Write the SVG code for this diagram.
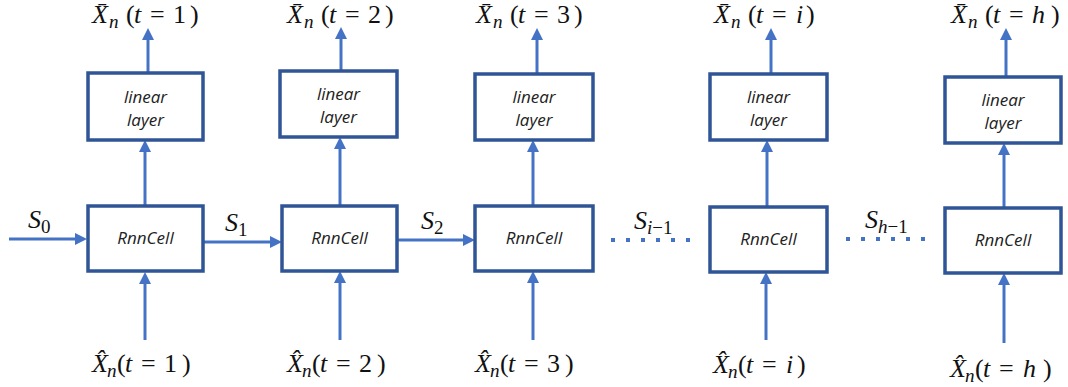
<svg xmlns="http://www.w3.org/2000/svg" width="1068" height="387" viewBox="0 0 1068 387">
<style>
.box{fill:#fff;stroke:#2F5597;stroke-width:3.5}
.ar{stroke:#4472C4;stroke-width:3;fill:none;marker-end:url(#ah)}
.dot{stroke:#4472C4;stroke-width:4;fill:none;stroke-dasharray:4 11}
.bt{font-family:"Open Sans","Noto Sans",sans-serif;font-style:italic;font-size:17px;fill:#222;text-anchor:middle}
.m{font-family:"Liberation Serif","DejaVu Serif",serif;font-size:26px;fill:#111}
.i{font-style:italic}
.sub{font-size:19px}
</style>
<defs>
<marker id="ah" markerUnits="userSpaceOnUse" markerWidth="12" markerHeight="12" refX="4" refY="6" orient="auto">
<path d="M0,0 L12,6 L0,12 z" fill="#4472C4"/>
</marker>
</defs>
<g id="connectors">
<line class="ar" x1="9" y1="239" x2="79" y2="239"/>
<line class="ar" x1="203" y1="242" x2="274" y2="242"/>
<line class="ar" x1="397" y1="240" x2="467" y2="240"/>
<line class="dot" x1="611" y1="240" x2="692" y2="240"/>
<line class="dot" x1="846" y1="239" x2="927" y2="239"/>
<line class="ar" x1="148" y1="73" x2="148" y2="36"/>
<line class="ar" x1="145" y1="206" x2="145" y2="148"/>
<line class="ar" x1="145" y1="340" x2="145" y2="280"/>
<line class="ar" x1="341" y1="71" x2="341" y2="35"/>
<line class="ar" x1="340" y1="206" x2="340" y2="145"/>
<line class="ar" x1="340" y1="340" x2="340" y2="279"/>
<line class="ar" x1="537" y1="74" x2="537" y2="36"/>
<line class="ar" x1="533" y1="206" x2="533" y2="148"/>
<line class="ar" x1="533" y1="340" x2="533" y2="279"/>
<line class="ar" x1="771" y1="74" x2="771" y2="36"/>
<line class="ar" x1="767" y1="207" x2="767" y2="148"/>
<line class="ar" x1="766" y1="340" x2="766" y2="280"/>
<line class="ar" x1="1006" y1="77" x2="1006" y2="36"/>
<line class="ar" x1="1004" y1="208" x2="1004" y2="151"/>
<line class="ar" x1="1004" y1="343" x2="1004" y2="281"/>
</g>
<g id="state-labels" class="m">
<text x="28" y="228"><tspan class="i">S</tspan><tspan class="sub" dy="5">0</tspan></text>
<text x="225" y="231"><tspan class="i">S</tspan><tspan class="sub" dy="5">1</tspan></text>
<text x="421" y="229"><tspan class="i">S</tspan><tspan class="sub" dy="5">2</tspan></text>
<text x="634" y="229"><tspan class="i">S</tspan><tspan class="sub" dy="5"><tspan class="i">i</tspan>−1</tspan></text>
<text x="865" y="228"><tspan class="i">S</tspan><tspan class="sub" dy="5"><tspan class="i">h</tspan>−1</tspan></text>
</g>
<g id="lin1"><rect class="box" x="88" y="73" width="115" height="67"/><text class="bt" x="145.5" y="103">linear</text><text class="bt" x="145.5" y="126">layer</text></g>
<g id="rnn1"><rect class="box" x="88" y="206" width="115" height="65"/><text class="bt" x="145.5" y="244">RnnCell</text></g>
<g id="lin2"><rect class="box" x="280" y="71" width="117" height="66"/><text class="bt" x="338.5" y="100">linear</text><text class="bt" x="338.5" y="123">layer</text></g>
<g id="rnn2"><rect class="box" x="282" y="206" width="115" height="65"/><text class="bt" x="339.5" y="244">RnnCell</text></g>
<g id="lin3"><rect class="box" x="475" y="74" width="118" height="66"/><text class="bt" x="534" y="103">linear</text><text class="bt" x="534" y="126">layer</text></g>
<g id="rnn3"><rect class="box" x="475" y="206" width="118" height="65"/><text class="bt" x="534" y="244">RnnCell</text></g>
<g id="lin4"><rect class="box" x="710" y="74" width="117" height="66"/><text class="bt" x="768.5" y="103">linear</text><text class="bt" x="768.5" y="126">layer</text></g>
<g id="rnn4"><rect class="box" x="710" y="207" width="117" height="65"/><text class="bt" x="768.5" y="245">RnnCell</text></g>
<g id="lin5"><rect class="box" x="945" y="77" width="116" height="66"/><text class="bt" x="1003" y="106">linear</text><text class="bt" x="1003" y="129">layer</text></g>
<g id="rnn5"><rect class="box" x="945" y="208" width="116" height="65"/><text class="bt" x="1003" y="246">RnnCell</text></g>
<g id="out-labels" class="m">
<text y="23"><tspan class="i" x="92">X̄</tspan><tspan class="i sub" x="109" dy="5">n</tspan><tspan x="126" dy="-5">(</tspan><tspan class="i" x="134">t</tspan><tspan x="150">=</tspan><tspan x="173">1</tspan><tspan x="190">)</tspan></text>
<text y="23"><tspan class="i" x="287">X̄</tspan><tspan class="i sub" x="304" dy="5">n</tspan><tspan x="321" dy="-5">(</tspan><tspan class="i" x="329">t</tspan><tspan x="345">=</tspan><tspan x="368">2</tspan><tspan x="385">)</tspan></text>
<text y="23"><tspan class="i" x="476">X̄</tspan><tspan class="i sub" x="493" dy="5">n</tspan><tspan x="510" dy="-5">(</tspan><tspan class="i" x="518">t</tspan><tspan x="534">=</tspan><tspan x="557">3</tspan><tspan x="574">)</tspan></text>
<text y="23"><tspan class="i" x="714">X̄</tspan><tspan class="i sub" x="731" dy="5">n</tspan><tspan x="748" dy="-5">(</tspan><tspan class="i" x="756">t</tspan><tspan x="772">=</tspan><tspan class="i" x="796">i</tspan><tspan x="806">)</tspan></text>
<text y="23"><tspan class="i" x="951">X̄</tspan><tspan class="i sub" x="968" dy="5">n</tspan><tspan x="985" dy="-5">(</tspan><tspan class="i" x="993">t</tspan><tspan x="1009">=</tspan><tspan class="i" x="1032">h</tspan><tspan x="1051">)</tspan></text>
</g>
<g id="in-labels" class="m">
<text y="372"><tspan class="i" x="92">X̂</tspan><tspan class="i sub" x="107" dy="5">n</tspan><tspan x="117" dy="-5">(</tspan><tspan class="i" x="125">t</tspan><tspan x="141">=</tspan><tspan x="164">1</tspan><tspan x="182">)</tspan></text>
<text y="372"><tspan class="i" x="287">X̂</tspan><tspan class="i sub" x="302" dy="5">n</tspan><tspan x="312" dy="-5">(</tspan><tspan class="i" x="320">t</tspan><tspan x="336">=</tspan><tspan x="359">2</tspan><tspan x="377">)</tspan></text>
<text y="372"><tspan class="i" x="475">X̂</tspan><tspan class="i sub" x="490" dy="5">n</tspan><tspan x="500" dy="-5">(</tspan><tspan class="i" x="508">t</tspan><tspan x="524">=</tspan><tspan x="547">3</tspan><tspan x="565">)</tspan></text>
<text y="373"><tspan class="i" x="713">X̂</tspan><tspan class="i sub" x="728" dy="5">n</tspan><tspan x="738" dy="-5">(</tspan><tspan class="i" x="746">t</tspan><tspan x="762">=</tspan><tspan class="i" x="786">i</tspan><tspan x="797">)</tspan></text>
<text y="377"><tspan class="i" x="950">X̂</tspan><tspan class="i sub" x="965" dy="5">n</tspan><tspan x="975" dy="-5">(</tspan><tspan class="i" x="983">t</tspan><tspan x="999">=</tspan><tspan class="i" x="1023">h</tspan><tspan x="1043">)</tspan></text>
</g>
</svg>
